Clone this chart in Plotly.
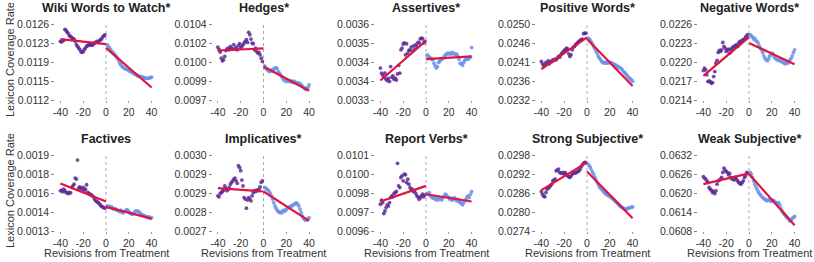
import plotly.graph_objects as go

titles = ["Wiki Words to Watch*", "Hedges*", "Assertives*", "Positive Words*", "Negative Words*",
          "Factives", "Implicatives*", "Report Verbs*", "Strong Subjective*", "Weak Subjective*"]

x_pre = list(range(-40, 0))
x_post = list(range(1, 41))
fit_x_pre = [-40, 0]
fit_x_post = [0, 40]

wiki_pre = [0.01228, 0.01227, 0.01229, 0.01230, 0.01250, 0.01248, 0.01245, 0.01242, 0.01238, 0.01237,
            0.01235, 0.01233, 0.01232, 0.01228, 0.01222, 0.01219, 0.01216, 0.01213, 0.01209, 0.01208,
            0.01209, 0.01213, 0.01216, 0.01219, 0.01220, 0.01222, 0.01222, 0.01221, 0.01221, 0.01223,
            0.01225, 0.01226, 0.01228, 0.01226, 0.01229, 0.01231, 0.01232, 0.01236, 0.01238, 0.01240]
wiki_post = [0.01222, 0.01219, 0.01216, 0.01213, 0.01209, 0.01208, 0.01205, 0.01203, 0.01200, 0.01197,
             0.01193, 0.01188, 0.01185, 0.01182, 0.01180, 0.01179, 0.01177, 0.01177, 0.01176, 0.01174,
             0.01173, 0.01172, 0.01171, 0.01169, 0.01168, 0.01167, 0.01166, 0.01164, 0.01164, 0.01163,
             0.01163, 0.01162, 0.01161, 0.01161, 0.01160, 0.01160, 0.01160, 0.01161, 0.01161, 0.01162]
hedges_pre = [0.010187, 0.010163, 0.010141, 0.010085, 0.010061, 0.010070, 0.010101, 0.010156, 0.010169, 0.010178,
              0.010163, 0.010193, 0.010175, 0.010169, 0.010209, 0.010169, 0.010184, 0.010163, 0.010200, 0.010218,
              0.010178, 0.010193, 0.010209, 0.010224, 0.010240, 0.010255, 0.010230, 0.010323, 0.010301, 0.010261,
              0.010224, 0.010218, 0.010163, 0.010178, 0.010147, 0.010132, 0.010138, 0.010116, 0.010085, 0.010055]
hedges_post = [0.010015, 0.009993, 0.009984, 0.009971, 0.009962, 0.009968, 0.009977, 0.009965, 0.009984, 0.009993,
               0.009999, 0.009987, 0.009962, 0.009947, 0.009931, 0.009916, 0.009900, 0.009879, 0.009891, 0.009870,
               0.009885, 0.009876, 0.009870, 0.009879, 0.009866, 0.009860, 0.009873, 0.009863, 0.009854, 0.009860,
               0.009848, 0.009854, 0.009839, 0.009829, 0.009817, 0.009808, 0.009799, 0.009808, 0.009817, 0.009839]
assert_pre = [0.003426, 0.003406, 0.003399, 0.003390, 0.003406, 0.003382, 0.003377, 0.003385, 0.003373, 0.003432,
              0.003390, 0.003395, 0.003382, 0.003386, 0.003379, 0.003403, 0.003437, 0.003406, 0.003498, 0.003505,
              0.003521, 0.003525, 0.003478, 0.003522, 0.003485, 0.003496, 0.003498, 0.003509, 0.003492, 0.003514,
              0.003501, 0.003518, 0.003511, 0.003527, 0.003525, 0.003541, 0.003544, 0.003542, 0.003525, 0.003531]
assert_post = [0.003478, 0.003474, 0.003469, 0.003465, 0.003461, 0.003459, 0.003445, 0.003435, 0.003426, 0.003432,
               0.003448, 0.003452, 0.003459, 0.003461, 0.003465, 0.003472, 0.003478, 0.003481, 0.003485, 0.003482,
               0.003485, 0.003481, 0.003488, 0.003485, 0.003482, 0.003478, 0.003481, 0.003472, 0.003461, 0.003445,
               0.003443, 0.003437, 0.003448, 0.003456, 0.003461, 0.003464, 0.003461, 0.003467, 0.003469, 0.003507]
pos_pre = [0.024112, 0.024056, 0.023993, 0.024033, 0.024088, 0.024072, 0.024128, 0.024056, 0.024112, 0.024104,
           0.024151, 0.024136, 0.024167, 0.024151, 0.024191, 0.024231, 0.024215, 0.024270, 0.024310, 0.024334,
           0.024374, 0.024389, 0.024429, 0.024413, 0.024294, 0.024231, 0.024270, 0.024389, 0.024453, 0.024469,
           0.024508, 0.024532, 0.024564, 0.024588, 0.024611, 0.024627, 0.024643, 0.024770, 0.024786, 0.024778]
pos_post = [0.024667, 0.024643, 0.024611, 0.024564, 0.024508, 0.024453, 0.024405, 0.024350, 0.024294, 0.024231,
            0.024191, 0.024151, 0.024112, 0.024088, 0.024072, 0.024088, 0.024080, 0.024072, 0.024088, 0.024096,
            0.024080, 0.024072, 0.024056, 0.024041, 0.024033, 0.024009, 0.023993, 0.023977, 0.023961, 0.023945,
            0.023914, 0.023874, 0.023850, 0.023818, 0.023787, 0.023755, 0.023723, 0.023700, 0.023676, 0.023644]
neg_pre = [0.021865, 0.021902, 0.021876, 0.021797, 0.021691, 0.021701, 0.021691, 0.021664, 0.021675, 0.021770,
           0.021849, 0.021982, 0.022024, 0.022151, 0.022182, 0.022167, 0.022193, 0.022309, 0.022246, 0.022220,
           0.022167, 0.022193, 0.022204, 0.022140, 0.022193, 0.022220, 0.022235, 0.022246, 0.022256, 0.022272,
           0.022246, 0.022299, 0.022325, 0.022309, 0.022341, 0.022352, 0.022362, 0.022394, 0.022415, 0.022431]
neg_post = [0.022431, 0.022415, 0.022394, 0.022362, 0.022378, 0.022341, 0.022325, 0.022299, 0.022256, 0.022220,
            0.022193, 0.022151, 0.022098, 0.022061, 0.022034, 0.022019, 0.022045, 0.022087, 0.022114, 0.022140,
            0.022124, 0.022087, 0.022061, 0.022045, 0.022034, 0.022024, 0.022034, 0.022008, 0.022019, 0.021992,
            0.021982, 0.021971, 0.021992, 0.021982, 0.022003, 0.022034, 0.022061, 0.022098, 0.022151, 0.022193]
fact_pre = [0.001617, 0.001622, 0.001609, 0.001630, 0.001617, 0.001604, 0.001601, 0.001596, 0.001604, 0.001601,
            0.001644, 0.001657, 0.001670, 0.001718, 0.001710, 0.001860, 0.001638, 0.001649, 0.001638, 0.001630,
            0.001644, 0.001622, 0.001630, 0.001665, 0.001604, 0.001596, 0.001591, 0.001585, 0.001578, 0.001570,
            0.001551, 0.001538, 0.001533, 0.001525, 0.001517, 0.001506, 0.001496, 0.001490, 0.001485, 0.001480]
fact_post = [0.001498, 0.001490, 0.001496, 0.001485, 0.001490, 0.001480, 0.001472, 0.001477, 0.001469, 0.001464,
             0.001459, 0.001453, 0.001464, 0.001448, 0.001443, 0.001453, 0.001459, 0.001469, 0.001464, 0.001453,
             0.001443, 0.001437, 0.001432, 0.001437, 0.001448, 0.001459, 0.001453, 0.001459, 0.001448, 0.001443,
             0.001432, 0.001427, 0.001422, 0.001419, 0.001416, 0.001411, 0.001406, 0.001411, 0.001400, 0.001406]
impl_pre = [0.002839, 0.002835, 0.002848, 0.002852, 0.002856, 0.002861, 0.002878, 0.002869, 0.002859, 0.002864,
            0.002872, 0.002885, 0.002892, 0.002898, 0.002905, 0.002909, 0.002898, 0.002888, 0.002958, 0.002951,
            0.002938, 0.002901, 0.002878, 0.002832, 0.002826, 0.002790, 0.002822, 0.002832, 0.002826, 0.002819,
            0.002839, 0.002852, 0.002859, 0.002856, 0.002861, 0.002859, 0.002865, 0.002874, 0.002892, 0.002898]
impl_post = [0.002872, 0.002869, 0.002865, 0.002861, 0.002856, 0.002848, 0.002839, 0.002826, 0.002812, 0.002799,
             0.002790, 0.002782, 0.002777, 0.002773, 0.002775, 0.002771, 0.002779, 0.002782, 0.002779, 0.002785,
             0.002790, 0.002793, 0.002795, 0.002798, 0.002799, 0.002803, 0.002806, 0.002808, 0.002811, 0.002806,
             0.002799, 0.002786, 0.002773, 0.002760, 0.002750, 0.002746, 0.002742, 0.002745, 0.002748, 0.002753]
report_pre = [0.009776, 0.009803, 0.009787, 0.009715, 0.009732, 0.009754, 0.009772, 0.009765, 0.009787, 0.009820,
              0.009831, 0.009825, 0.009847, 0.009853, 0.009860, 0.010045, 0.009897, 0.009886, 0.009952, 0.009963,
              0.009930, 0.009974, 0.009970, 0.009919, 0.009941, 0.009908, 0.009886, 0.009869, 0.009875, 0.009860,
              0.009864, 0.009847, 0.009831, 0.009825, 0.009809, 0.009820, 0.009831, 0.009842, 0.009825, 0.009838]
report_post = [0.009847, 0.009842, 0.009853, 0.009831, 0.009825, 0.009816, 0.009820, 0.009809, 0.009814, 0.009803,
               0.009820, 0.009809, 0.009816, 0.009805, 0.009820, 0.009831, 0.009842, 0.009836, 0.009825, 0.009820,
               0.009809, 0.009816, 0.009803, 0.009811, 0.009820, 0.009807, 0.009798, 0.009809, 0.009794, 0.009787,
               0.009781, 0.009772, 0.009785, 0.009798, 0.009809, 0.009825, 0.009831, 0.009820, 0.009842, 0.009860]
strong_pre = [0.028648, 0.028563, 0.028500, 0.028478, 0.028616, 0.028722, 0.028753, 0.028796, 0.028827, 0.028880,
              0.028986, 0.029007, 0.029039, 0.029303, 0.029324, 0.029356, 0.029250, 0.029229, 0.029218, 0.029250,
              0.029197, 0.029240, 0.029176, 0.029144, 0.029113, 0.029092, 0.029134, 0.029197, 0.029218, 0.029250,
              0.029229, 0.029261, 0.029282, 0.029303, 0.029356, 0.029430, 0.029493, 0.029536, 0.029567, 0.029557]
strong_post = [0.029515, 0.029462, 0.029409, 0.029324, 0.029250, 0.029176, 0.029092, 0.029007, 0.028930, 0.028859,
               0.028796, 0.028753, 0.028711, 0.028669, 0.028626, 0.028584, 0.028563, 0.028531, 0.028510, 0.028489,
               0.028468, 0.028436, 0.028404, 0.028373, 0.028330, 0.028299, 0.028267, 0.028225, 0.028193, 0.028161,
               0.028140, 0.028119, 0.028098, 0.028087, 0.028098, 0.028119, 0.028130, 0.028140, 0.028151, 0.028161]
weak_pre = [0.062513, 0.062470, 0.062439, 0.062386, 0.062333, 0.062174, 0.062122, 0.062090, 0.062016, 0.062048,
            0.061984, 0.062069, 0.062280, 0.062386, 0.062407, 0.062439, 0.062492, 0.062650, 0.062788, 0.062724,
            0.062682, 0.062650, 0.062576, 0.062618, 0.062492, 0.062439, 0.062470, 0.062407, 0.062492, 0.062439,
            0.062386, 0.062333, 0.062301, 0.062280, 0.062333, 0.062386, 0.062492, 0.062544, 0.062650, 0.062618]
weak_post = [0.062650, 0.062597, 0.062492, 0.062386, 0.062280, 0.062196, 0.062122, 0.062048, 0.061984, 0.061942,
             0.061900, 0.061857, 0.061826, 0.061804, 0.061773, 0.061752, 0.061773, 0.061794, 0.061752, 0.061730,
             0.061773, 0.061752, 0.061709, 0.061688, 0.061667, 0.061699, 0.061625, 0.061519, 0.061434, 0.061381,
             0.061329, 0.061276, 0.061244, 0.061202, 0.061160, 0.061110, 0.061150, 0.061200, 0.061230, 0.061260]

pre_series = [wiki_pre, hedges_pre, assert_pre, pos_pre, neg_pre, fact_pre, impl_pre, report_pre, strong_pre, weak_pre]
post_series = [wiki_post, hedges_post, assert_post, pos_post, neg_post, fact_post, impl_post, report_post, strong_post, weak_post]

fit_pre = [[0.01232, 0.01223], [0.010156, 0.010175], [0.003377, 0.003534], [0.02393, 0.024683], [0.021781, 0.022394],
           [0.001675, 0.001533], [0.002869, 0.002856], [0.009794, 0.009897], [0.02869, 0.029567], [0.06228, 0.062618]]
fit_post = [[0.01216, 0.01143], [0.010008, 0.009786], [0.003461, 0.003472], [0.024643, 0.023533], [0.022299, 0.021966],
            [0.00149, 0.001398], [0.002856, 0.00274], [0.009842, 0.009794], [0.029282, 0.027802], [0.062597, 0.06098]]

y_ranges = [[0.0112, 0.0126], [0.0097, 0.0104], [0.0033, 0.0036], [0.0232, 0.0250], [0.0214, 0.0226],
            [0.0013, 0.0019], [0.0027, 0.0030], [0.0096, 0.0101], [0.0274, 0.0298], [0.0608, 0.0632]]
y_ticktext = [["0.0112", "0.0115", "0.0119", "0.0123", "0.0126"],
              ["0.0097", "0.0099", "0.0100", "0.0102", "0.0104"],
              ["0.0033", "0.0034", "0.0034", "0.0035", "0.0036"],
              ["0.0232", "0.0236", "0.0241", "0.0246", "0.0250"],
              ["0.0214", "0.0217", "0.0220", "0.0223", "0.0226"],
              ["0.0013", "0.0014", "0.0016", "0.0018", "0.0019"],
              ["0.0027", "0.0028", "0.0029", "0.0029", "0.0030"],
              ["0.0096", "0.0097", "0.0098", "0.0100", "0.0101"],
              ["0.0274", "0.0280", "0.0286", "0.0292", "0.0298"],
              ["0.0608", "0.0614", "0.0620", "0.0626", "0.0632"]]
x_tickvals = [-40, -20, 0, 20, 40]

W, H = 814, 262
zero_px = [106, 263.5, 426, 587, 749]
px_per_unit = 1.14
x_half = 44.5
row_px = [(24, 100), (155, 231)]

PURPLE = "#5e2a96"
BLUE = "#6b93ea"
RED = "#e0143f"
FONT = "Liberation Sans, Arial, sans-serif"

fig = go.Figure()
annotations = []
shapes = []
for i in range(10):
    r, c = divmod(i, 5)
    xa = "x" if i == 0 else f"x{i+1}"
    ya = "y" if i == 0 else f"y{i+1}"
    left = zero_px[c] - x_half * px_per_unit
    right = zero_px[c] + x_half * px_per_unit
    top, bot = row_px[r]
    lo, hi = y_ranges[i]
    step = (hi - lo) / 4
    tickvals = [lo + k * step for k in range(5)]
    fig.add_trace(go.Scatter(x=x_pre, y=pre_series[i], mode="markers", xaxis=xa, yaxis=ya,
                             marker=dict(color=PURPLE, size=3.8, opacity=0.85), showlegend=False))
    fig.add_trace(go.Scatter(x=x_post, y=post_series[i], mode="markers", xaxis=xa, yaxis=ya,
                             marker=dict(color=BLUE, size=3.8, opacity=0.85), showlegend=False))
    fig.add_trace(go.Scatter(x=fit_x_pre, y=fit_pre[i], mode="lines", xaxis=xa, yaxis=ya,
                             line=dict(color=RED, width=2.2), showlegend=False))
    fig.add_trace(go.Scatter(x=fit_x_post, y=fit_post[i], mode="lines", xaxis=xa, yaxis=ya,
                             line=dict(color=RED, width=2.2), showlegend=False))
    xkey = "xaxis" if i == 0 else f"xaxis{i+1}"
    ykey = "yaxis" if i == 0 else f"yaxis{i+1}"
    fig.update_layout({
        xkey: dict(domain=[left / W, right / W], anchor=ya, range=[-x_half, x_half],
                   tickvals=x_tickvals, ticktext=[str(v) for v in x_tickvals], automargin=False,
                   showgrid=False, zeroline=False, showline=False, ticks="outside",
                   ticklen=2, tickcolor="#999", tickwidth=1,
                   tickfont=dict(size=10.5, color="#333", family=FONT)),
        ykey: dict(domain=[1 - bot / H, 1 - top / H], anchor=xa, range=[lo, hi],
                   tickvals=tickvals, ticktext=y_ticktext[i], automargin=False,
                   showgrid=False, zeroline=False, showline=False, ticks="outside",
                   ticklen=3, tickcolor="#888", tickwidth=1,
                   tickfont=dict(size=10.5, color="#333", family=FONT)),
    })
    shapes.append(dict(type="line", xref=xa, yref=f"{ya} domain", x0=0, x1=0, y0=0, y1=1,
                       line=dict(color="#aaaaaa", width=1, dash="dot"), layer="below"))
    annotations.append(dict(text=f"<b>{titles[i]}</b>", xref="paper", yref="paper",
                            x=zero_px[c] / W, y=1 - (8 if r == 0 else 139) / H,
                            xanchor="center", yanchor="middle", showarrow=False,
                            font=dict(size=12.5, color="#222", family=FONT)))
    if c == 0:
        annotations.append(dict(text="Lexicon Coverage Rate", xref="paper", yref="paper",
                                x=10 / W, y=1 - ((top + bot) / 2 - 2) / H, textangle=-90,
                                xanchor="center", yanchor="middle", showarrow=False,
                                font=dict(size=11, color="#333", family=FONT)))
    if r == 1:
        annotations.append(dict(text="Revisions from Treatment", xref="paper", yref="paper",
                                x=zero_px[c] / W, y=1 - 253 / H,
                                xanchor="center", yanchor="middle", showarrow=False,
                                font=dict(size=11, color="#333", family=FONT)))

fig.update_layout(width=W, height=H, margin=dict(l=0, r=0, t=0, b=0),
                  paper_bgcolor="white", plot_bgcolor="white",
                  annotations=annotations, shapes=shapes)
fig.write_html("out.html", config={"displayModeBar": False},
               post_script="document.body.style.margin='0';document.body.style.padding='0';document.body.style.overflow='hidden';")
